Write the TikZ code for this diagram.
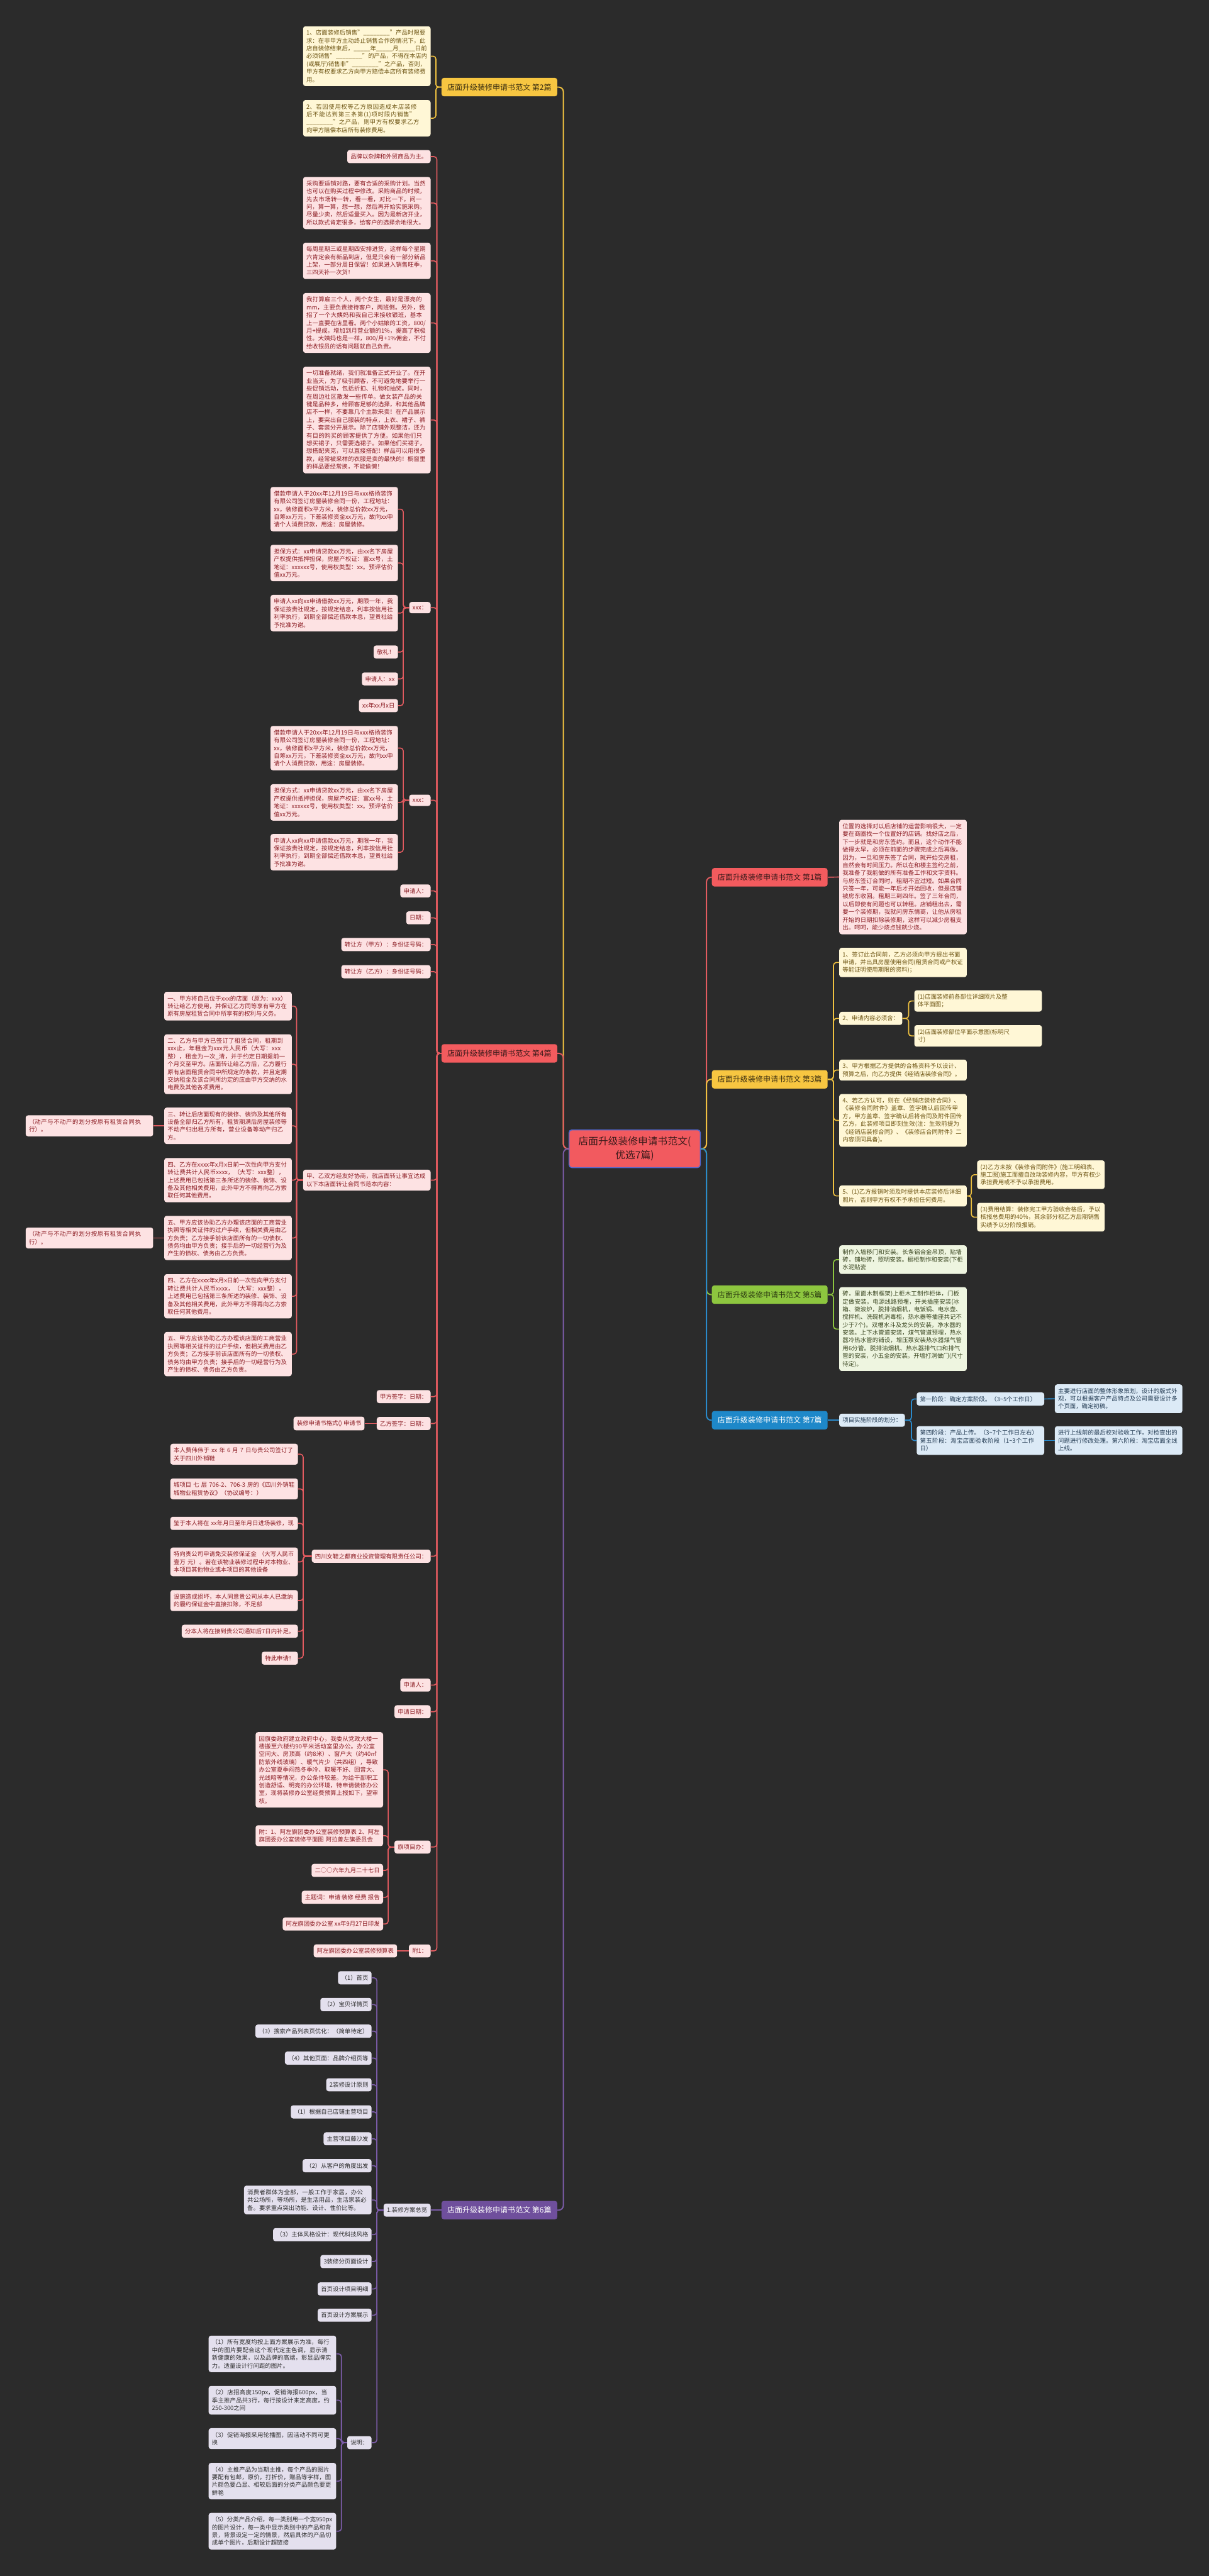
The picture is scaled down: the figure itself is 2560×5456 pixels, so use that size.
\documentclass[tikz,border=0pt]{standalone}
\usepackage{fontspec}
\setmainfont{Noto Sans CJK SC}
\XeTeXlinebreaklocale "zh"
\XeTeXlinebreakskip=0pt plus 1pt
\definecolor{bgc}{HTML}{2B2B2B}
\definecolor{ylab}{HTML}{F7C641}\definecolor{ybox}{HTML}{FFF7D6}\definecolor{ytext}{HTML}{6E5514}\definecolor{yline}{HTML}{EFC140}\definecolor{ylt}{HTML}{3A2E10}
\definecolor{rlab}{HTML}{F35B5E}\definecolor{rbox}{HTML}{FDE2E3}\definecolor{rtext}{HTML}{8C1D24}\definecolor{rline}{HTML}{E25B60}\definecolor{rlt}{HTML}{3A1A1A}
\definecolor{plab}{HTML}{6F4F9C}\definecolor{pbox}{HTML}{E4E0EE}\definecolor{ptext}{HTML}{2E2E2E}\definecolor{pline}{HTML}{7B5CA8}
\definecolor{glab}{HTML}{8DC63F}\definecolor{gbox}{HTML}{EEF5E0}\definecolor{gtext}{HTML}{39451F}\definecolor{gline}{HTML}{8DC63F}\definecolor{glt}{HTML}{2B3A10}
\definecolor{blab}{HTML}{1E88C9}\definecolor{bbox}{HTML}{DCEAF6}\definecolor{btext}{HTML}{223A52}\definecolor{bline}{HTML}{2A8ACB}
\definecolor{cfill}{HTML}{F25A5F}\definecolor{cdraw}{HTML}{5267D0}
\newcommand\jkA{借款申请人于20xx年12月19日与xxx格扬装饰有限公司签订房屋装修合同一份，工程地址：xx，装修面积x平方米，装修总价款xx万元，自筹xx万元，下差装修资金xx万元，故向xx申请个人消费贷款，用途：房屋装修。}
\newcommand\jkB{担保方式：xx申请贷款xx万元，由xx名下房屋产权提供抵押担保，房屋产权证：富xx号，土地证：xxxxxx号，使用权类型：xx。预评估价值xx万元。}
\newcommand\jkC{申请人xx向xx申请借款xx万元，期限一年，我保证按贵社规定，按规定结息，利率按信用社利率执行，到期全部偿还借款本息，望贵社给予批准为谢。}
\newcommand\zrFour{四、乙方在xxxx年x月x日前一次性向甲方支付转让费共计人民币xxxx，（大写：xxx整），上述费用已包括第三条所述的装修、装饰、设备及其他相关费用，此外甲方不得再向乙方索取任何其他费用。}
\newcommand\zrFive{五、甲方应该协助乙方办理该店面的工商营业执照等相关证件的过户手续，但相关费用由乙方负责；乙方接手前该店面所有的一切债权、债务均由甲方负责；接手后的一切经营行为及产生的债权、债务由乙方负责。}
\newcommand\dcText{（动产与不动产的划分按原有租赁合同执行）。}
\begin{document}
\begin{tikzpicture}[x=1pt,y=-1pt,
 bx/.style={rounded corners=5pt, inner xsep=7pt, inner ysep=8pt, font=\fontsize{12.5pt}{16.5pt}\selectfont, align=left},
 tw/.style={text width=256pt},
 ybx/.style={bx, fill=ybox, text=ytext},
 rbx/.style={bx, fill=rbox, text=rtext},
 pbx/.style={bx, fill=pbox, text=ptext},
 gbx/.style={bx, fill=gbox, text=gtext},
 bbx/.style={bx, fill=bbox, text=btext},
 lab/.style={rounded corners=5pt, minimum width=245pt, minimum height=39pt, inner xsep=4pt, font=\fontsize{16pt}{19pt}\selectfont},
 ctr/.style={rounded corners=6pt, fill=cfill, draw=cdraw, line width=2pt, minimum width=278pt, minimum height=80pt, align=center, text=rlt, font=\fontsize{21pt}{29pt}\selectfont},
 lk/.style={line width=2.6pt, rounded corners=10pt},
 lk2/.style={line width=2.2pt, rounded corners=6pt}]
\fill[bgc] (0,0) rectangle (2560,5456);
\useasboundingbox (0,0) rectangle (2560,5456);

% centre and branch labels
\node[ctr] (C) at (1344,2433) {店面升级装修申请书范文(\\优选7篇)};
\node[lab, fill=ylab, text=ylt] (L2) at (1057.5,184.5) {店面升级装修申请书范文 第2篇};
\node[lab, fill=rlab, text=rlt] (L4) at (1057.5,2231) {店面升级装修申请书范文 第4篇};
\node[lab, fill=plab, text=white] (L6) at (1057.5,4681) {店面升级装修申请书范文 第6篇};
\node[lab, fill=rlab, text=rlt] (L1) at (1630,1858) {店面升级装修申请书范文 第1篇};
\node[lab, fill=ylab, text=ylt] (L3) at (1630,2286) {店面升级装修申请书范文 第3篇};
\node[lab, fill=glab, text=glt] (L5) at (1630,2742) {店面升级装修申请书范文 第5篇};
\node[lab, fill=blab, text=white] (L7) at (1630,3008) {店面升级装修申请书范文 第7篇};

\coordinate (tL) at (1193,0); \coordinate (tR) at (1496,0);
\coordinate (b2) at (923,0); \coordinate (b4) at (925,0); \coordinate (bx) at (854,0);
\coordinate (b10) at (628,0); \coordinate (b13) at (642,0); \coordinate (b16) at (822,0);
\coordinate (bG) at (798,0); \coordinate (bH) at (723,0);
\coordinate (b3) at (1765,0); \coordinate (bS2) at (1924,0); \coordinate (bS5) at (2057,0);
\coordinate (b5) at (1765,0); \coordinate (bU) at (1930,0);

% 第2篇
\node[ybx,tw,anchor=east] (Y1) at (912,119) {1、店面装修后销售"\_\_\_\_\_\_\_\_"产品时限要求：在非甲方主动终止销售合作的情况下，此店自装修结束后，\_\_\_\_\_年\_\_\_\_\_月\_\_\_\_\_日前必须销售"\_\_\_\_\_\_\_\_"的产品，不得在本店内(或展厅)销售非"\_\_\_\_\_\_\_\_"之产品，否则，甲方有权要求乙方向甲方赔偿本店所有装修费用。};
\node[ybx,tw,anchor=east] (Y2) at (912,250.5) {2、若因使用权等乙方原因造成本店装修后不能达到第三条第(1)项时限内销售"\_\_\_\_\_\_\_\_"之产品，则甲方有权要求乙方向甲方赔偿本店所有装修费用。};

% 第4篇
\node[rbx,anchor=east] (P1) at (912,331.7) {品牌以杂牌和外贸商品为主。};
\node[rbx,tw,anchor=east] (P2) at (912,430) {采购要适销对路，要有合适的采购计划。当然也可以在购买过程中修改。采购商品的时候，先去市场转一转，看一看，对比一下，问一问，算一算，想一想，然后再开始实施采购。尽量少卖，然后适量买入。因为是新店开业，所以款式肯定很多，给客户的选择余地很大。};
\node[rbx,tw,anchor=east] (P3) at (912,552.5) {每周星期三或星期四安排进货，这样每个星期六肯定会有新品到店，但是只会有一部分新品上架，一部分周日保留！如果进入销售旺季，三四天补一次货！};
\node[rbx,tw,anchor=east] (P4) at (912,684) {我打算雇三个人，两个女生，最好是漂亮的mm，主要负责接待客户，两班倒。另外，我招了一个大姨妈和我自己来接收银班，基本上一直要在店里看。两个小姑娘的工资，800/月+提成，增加到月营业额的1\%，提高了积极性。大姨妈也是一样，800/月+1\%佣金，不付给收银员的话有问题就自己负责。};
\node[rbx,tw,anchor=east] (P5) at (912,889.6) {一切准备就绪，我们就准备正式开业了。在开业当天，为了吸引顾客，不可避免地要举行一些促销活动，包括折扣、礼物和抽奖。同时，在周边社区散发一些传单。做女装产品的关键是品种多，给顾客足够的选择，和其他品牌店不一样，不要靠几个主款来卖！在产品展示上，要突出自己服装的特点，上衣、裙子、裤子、套装分开展示。除了店铺外观整洁，还为有目的购买的顾客提供了方便。如果他们只想买裙子，只需要选裙子。如果他们买裙子，想搭配夹克，可以直接搭配！样品可以用很多款，经常被采样的衣服是卖的最快的！橱窗里的样品要经常换，不能偷懒！};
\node[rbx,anchor=east] (X1) at (912,1287) {xxx：};
\node[rbx,tw,anchor=east] (A1) at (843,1078.4) {\jkA};
\node[rbx,tw,anchor=east] (A2) at (843,1192.5) {\jkB};
\node[rbx,tw,anchor=east] (A3) at (843,1298.5) {\jkC};
\node[rbx,anchor=east] (A4) at (843,1381) {敬礼！};
\node[rbx,anchor=east] (A5) at (843,1438) {申请人：xx};
\node[rbx,anchor=east] (A6) at (843,1494.5) {xx年xx月x日};
\node[rbx,anchor=east] (X2) at (912,1695) {xxx：};
\node[rbx,tw,anchor=east] (B1) at (843,1584.5) {\jkA};
\node[rbx,tw,anchor=east] (B2) at (843,1699.5) {\jkB};
\node[rbx,tw,anchor=east] (B3) at (843,1805) {\jkC};
\node[rbx,anchor=east] (P6) at (912,1887) {申请人：};
\node[rbx,anchor=east] (P7) at (912,1944) {日期：};
\node[rbx,anchor=east] (P8) at (912,2000.5) {转让方（甲方）：身份证号码：};
\node[rbx,anchor=east] (P9) at (912,2058) {转让方（乙方）：身份证号码：};
\node[rbx,tw,anchor=east] (P10) at (912,2499.5) {甲、乙双方经友好协商，就店面转让事宜达成以下本店面转让合同书范本内容：};
\node[rbx,tw,anchor=east] (C1) at (618,2131) {一、甲方将自己位于xxx的店面（原为：xxx）转让给乙方使用，并保证乙方同等享有甲方在原有房屋租赁合同中所享有的权利与义务。};
\node[rbx,tw,anchor=east] (C2) at (618,2254) {二、乙方与甲方已签订了租赁合同，租期到xxx止，年租金为xxx元人民币（大写：xxx整），租金为一次\_清，并于约定日期提前一个月交至甲方。店面转让给乙方后，乙方履行原有店面租赁合同中所规定的条款，并且定期交纳租金及该合同所约定的应由甲方交纳的水电费及其他各项费用。};
\node[rbx,tw,anchor=east] (C3) at (618,2384.5) {三、转让后店面现有的装修、装饰及其他所有设备全部归乙方所有，租赁期满后房屋装修等不动产归出租方所有，营业设备等动产归乙方。};
\node[rbx,tw,anchor=east] (C4) at (618,2499.5) {\zrFour};
\node[rbx,tw,anchor=east] (C5) at (618,2622) {\zrFive};
\node[rbx,tw,anchor=east] (C6) at (618,2745.5) {\zrFour};
\node[rbx,tw,anchor=east] (C7) at (618,2868) {\zrFive};
\node[rbx,tw,anchor=east] (F1) at (324.5,2384.5) {\dcText};
\node[rbx,tw,anchor=east] (F2) at (324.5,2622) {\dcText};
\node[rbx,anchor=east] (P11) at (912,2958) {甲方签字：日期：};
\node[rbx,anchor=east] (P12) at (912,3015) {乙方签字：日期：};
\node[rbx,anchor=east] (K1) at (772,3015) {装修申请书格式()\ 申请书};
\node[rbx,anchor=east] (P13) at (912,3296) {四川女鞋之都商业投资管理有限责任公司：};
\node[rbx,tw,anchor=east] (D1) at (631,3080) {本人费伟伟于 xx 年 6 月 7 日与贵公司签订了关于四川外销鞋};
\node[rbx,tw,anchor=east] (D2) at (631,3153.5) {城项目 七 层 706-2、706-3 房的《四川外销鞋城物业租赁协议》（协议编号：）};
\node[rbx,tw,anchor=east] (D3) at (631,3226.5) {鉴于本人将在 xx年月日至年月日进场装修，现};
\node[rbx,tw,anchor=east] (D4) at (631,3308) {特向贵公司申请免交装修保证金 （大写人民币壹万 元）。若在该物业装修过程中对本物业、本项目其他物业或本项目的其他设备};
\node[rbx,tw,anchor=east] (D5) at (631,3390) {设施造成损坏，本人同意贵公司从本人已缴纳的履约保证金中直接扣除，不足部};
\node[rbx,anchor=east] (D6) at (631,3455) {分本人将在接到贵公司通知后7日内补足。};
\node[rbx,anchor=east] (D7) at (631,3512) {特此申请！};
\node[rbx,anchor=east] (P14) at (912,3569) {申请人：};
\node[rbx,anchor=east] (P15) at (912,3625.5) {申请日期：};
\node[rbx,anchor=east] (P16) at (912,3912) {旗项目办：};
\node[rbx,tw,anchor=east] (E1) at (811.4,3748.5) {因旗委政府建立政府中心，我委从党政大楼一楼搬至六楼约90平米活动室里办公。办公室空间大、房顶高（约8米）、窗户大（约40㎡防紫外线玻璃）、暖气片少（共四组），导致办公室夏季闷热冬季冷、取暖不好、回音大、光线暗等情况，办公条件较差。为给干部职工创造舒适、明亮的办公环境，特申请装修办公室，现将装修办公室经费预算上报如下，望审核。};
\node[rbx,tw,anchor=east] (E2) at (811.4,3888) {附：1、阿左旗团委办公室装修预算表 2、阿左旗团委办公室装修平面图 阿拉善左旗委员会};
\node[rbx,anchor=east] (E3) at (811.4,3961.5) {二○○六年九月二十七日};
\node[rbx,anchor=east] (E4) at (811.4,4018.5) {主题词：申请 装修 经费 报告};
\node[rbx,anchor=east] (E5) at (811.4,4075) {阿左旗团委办公室 xx年9月27日印发};
\node[rbx,anchor=east] (P17) at (912,4132) {附1：};
\node[rbx,anchor=east] (Q1) at (841,4132) {阿左旗团委办公室装修预算表};

% 第6篇
\node[pbx,anchor=east] (G0) at (912,4681) {1.装修方案总览};
\node[pbx,anchor=east] (G1) at (787,4189) {（1）首页};
\node[pbx,anchor=east] (G2) at (787,4245.6) {（2）宝贝详情页};
\node[pbx,anchor=east] (G3) at (787,4302) {（3）搜索产品列表页优化：（简单待定）};
\node[pbx,anchor=east] (G4) at (787,4359) {（4）其他页面：品牌介绍页等};
\node[pbx,anchor=east] (G5) at (787,4415.5) {2装修设计原则};
\node[pbx,anchor=east] (G6) at (787,4473) {（1）根据自己店铺主营项目};
\node[pbx,anchor=east] (G7) at (787,4530) {主营项目藤沙发};
\node[pbx,anchor=east] (G8) at (787,4587) {（2）从客户的角度出发};
\node[pbx,tw,anchor=east] (G9) at (787,4659.5) {消费者群体为全部，一般工作于家居，办公共公场所，等场所，是生活用品，生活家装必备。要求重点突出功能、设计、性价比等。};
\node[pbx,anchor=east] (G10) at (787,4733) {（3）主体风格设计：现代科技风格};
\node[pbx,anchor=east] (G11) at (787,4790) {3装修分页面设计};
\node[pbx,anchor=east] (G12) at (787,4848) {首页设计项目明细};
\node[pbx,anchor=east] (G13) at (787,4903.6) {首页设计方案展示};
\node[pbx,anchor=east] (G14) at (787,5173.5) {说明：};
\node[pbx,tw,anchor=east] (H1) at (712,4985.5) {（1）所有宽度均按上面方案展示为准，每行中的图片要配合这个现代定主色调，显示清新健康的效果，以及品牌的高端，彰显品牌实力。适量设计行间距的图片。};
\node[pbx,tw,anchor=east] (H2) at (712,5083.7) {（2）店招高度150px，促销海报600px，当季主推产品共3行，每行按设计来定高度，约250-300之间};
\node[pbx,tw,anchor=east] (H3) at (712,5165) {（3）促销海报采用轮播图，因活动不同可更换};
\node[pbx,tw,anchor=east] (H4) at (712,5255) {（4）主推产品为当期主推，每个产品的图片要配有包邮，原价，打折价，赠品等字样，图片颜色要凸显、相较后面的分类产品颜色要更鲜艳};
\node[pbx,tw,anchor=east] (H5) at (712,5361) {（5）分类产品介绍，每一类别用一个宽950px的图片设计，每一类中显示类别中的产品和背景，背景设定一定的情景，然后具体的产品切成单个图片，后期设计超链接};

% 第1篇
\node[rbx,tw,anchor=west] (R1) at (1777,1857.5) {位置的选择对以后店铺的运营影响很大，一定要在商圈找一个位置好的店铺。找好店之后，下一步就是和房东签约。而且，这个动作不能做得太早，必须在前面的步骤完成之后再做。因为，一旦和房东签了合同，就开始交房租，自然会有时间压力。所以在和楼主签约之前，我准备了我能做的所有准备工作和文字资料。与房东签订合同时，租期不宜过短。如果合同只签一年，可能一年后才开始回收，但是店铺被房东收回。租期三到四年。签了三年合同，以后即使有问题也可以转租。店铺租出去，需要一个装修期，我就问房东情商，让他从房租开始的日期扣除装修期，这样可以减少房租支出。呵呵，能少烧点钱就少烧。};

% 第3篇
\node[ybx,tw,anchor=west] (S1) at (1777,2038.5) {1、签订此合同前，乙方必须向甲方提出书面申请，并出具房屋使用合同(租赁合同或产权证等能证明使用期限的资料)；};
\node[ybx,anchor=west] (S2) at (1777,2157) {2、申请内容必须含：};
\node[ybx,tw,anchor=west] (S21) at (1936,2120) {(1)店面装修前各部位详细照片及整\\体平面图；};
\node[ybx,tw,anchor=west] (S22) at (1936,2194) {(2)店面装修部位平面示意图(标明尺\\寸)};
\node[ybx,tw,anchor=west] (S3) at (1777,2266.5) {3、甲方根据乙方提供的合格资料予以设计、预算之后，向乙方提供《经销店装修合同》。};
\node[ybx,tw,anchor=west] (S4) at (1777,2373) {4、若乙方认可，则在《经销店装修合同》、《装修合同附件》盖章、签字确认后回传甲方，甲方盖章、签字确认后将合同及附件回传乙方，此装修项目即刻生效(注：生效前提为《经销店装修合同》、《装修店合同附件》二内容须同具备)。};
\node[ybx,tw,anchor=west] (S5) at (1777,2533) {5、(1)乙方报销时须及时提供本店装修后详细照片，否则甲方有权不予承担任何费用。};
\node[ybx,tw,anchor=west] (S51) at (2069,2488) {(2)乙方未按《装修合同附件》(施工明细表、施工图)施工而擅自改动装修内容，甲方有权少承担费用或不予以承担费用。};
\node[ybx,tw,anchor=west] (S52) at (2069,2578) {(3)费用结算：装修完工甲方验收合格后，予以核报总费用的40\%，其余部分视乙方后期销售实绩予以分阶段报销。};

% 第5篇
\node[gbx,tw,anchor=west] (T1) at (1777,2668) {制作入墙移门和安装。长条铝合金吊顶，贴墙砖，铺地砖，照明安装。橱柜制作和安装(下柜水泥贴瓷};
\node[gbx,tw,anchor=west] (T2) at (1777,2815) {砖，里面木制框架)上柜木工制作柜体，门板定做安装。电源线路预埋，开关插座安装(冰箱、微波炉，脱排油烟机，电饭锅、电水壶、搅拌机、洗碗机消毒柜，热水器等插座共记不少于7个)。双槽水斗及龙头的安装，净水器的安装。上下水管道安装，煤气管道预埋，热水器冷热水管的铺设，增压泵安装热水器煤气管用6分管。脱排油烟机、热水器排气口和排气管的安装，小五金的安装。开墙打洞做门(尺寸待定)。};

% 第7篇
\node[bbx,anchor=west] (U1) at (1777,3008) {项目实施阶段的划分：};
\node[bbx,tw,anchor=west] (U11) at (1941,2963) {第一阶段：确定方案阶段。（3\textasciitilde5个工作日）};
\node[bbx,tw,anchor=west] (U12) at (1941,3051) {第四阶段：产品上传。（3\textasciitilde7个工作日左右）第五阶段：淘宝店面验收阶段（1\textasciitilde3个工作日）};
\node[bbx,tw,anchor=west] (U111) at (2233.5,2962.5) {主要进行店面的整体形象策划，设计的版式外观，可以根据客户产品特点及公司需要设计多个页面，确定初稿。};
\node[bbx,tw,anchor=west] (U121) at (2233.5,3051) {进行上线前的最后校对验收工作，对检查出的问题进行修改处理。第六阶段：淘宝店面全线上线。};

% trunk connectors
\draw[lk, yline] (C.west) -- (C.west -| tL) |- (L2.east);
\draw[lk, rline] (C.west) -- (C.west -| tL) |- (L4.east);
\draw[lk, pline] (C.west) -- (C.west -| tL) |- (L6.east);
\draw[lk, rline] (C.east) -- (C.east -| tR) |- (L1.west);
\draw[lk, yline] (C.east) -- (C.east -| tR) |- (L3.west);
\draw[lk, gline] (C.east) -- (C.east -| tR) |- (L5.west);
\draw[lk, bline] (C.east) -- (C.east -| tR) |- (L7.west);

% branch connectors
\foreach \cn in {Y1,Y2} \draw[lk2, yline] (L2.west) -- (L2.west -| b2) |- (\cn.east);
\foreach \cn in {P1,P2,P3,P4,P5,X1,X2,P6,P7,P8,P9,P10,P11,P12,P13,P14,P15,P16,P17} \draw[lk2, rline] (L4.west) -- (L4.west -| b4) |- (\cn.east);
\foreach \cn in {A1,A2,A3,A4,A5,A6} \draw[lk2, rline] (X1.west) -- (X1.west -| bx) |- (\cn.east);
\foreach \cn in {B1,B2,B3} \draw[lk2, rline] (X2.west) -- (X2.west -| bx) |- (\cn.east);
\foreach \cn in {C1,C2,C3,C4,C5,C6,C7} \draw[lk2, rline] (P10.west) -- (P10.west -| b10) |- (\cn.east);
\draw[lk2, rline] (C3.west) -- (F1.east);
\draw[lk2, rline] (C5.west) -- (F2.east);
\draw[lk2, rline] (P12.west) -- (K1.east);
\foreach \cn in {D1,D2,D3,D4,D5,D6,D7} \draw[lk2, rline] (P13.west) -- (P13.west -| b13) |- (\cn.east);
\foreach \cn in {E1,E2,E3,E4,E5} \draw[lk2, rline] (P16.west) -- (P16.west -| b16) |- (\cn.east);
\draw[lk2, rline] (P17.west) -- (Q1.east);
\draw[lk2, pline] (L6.west) -- (G0.east);
\foreach \cn in {G1,G2,G3,G4,G5,G6,G7,G8,G9,G10,G11,G12,G13,G14} \draw[lk2, pline] (G0.west) -- (G0.west -| bG) |- (\cn.east);
\foreach \cn in {H1,H2,H3,H4,H5} \draw[lk2, pline] (G14.west) -- (G14.west -| bH) |- (\cn.east);
\draw[lk2, rline] (L1.east) -- (R1.west);
\foreach \cn in {S1,S2,S3,S4,S5} \draw[lk2, yline] (L3.east) -- (L3.east -| b3) |- (\cn.west);
\foreach \cn in {S21,S22} \draw[lk2, yline] (S2.east) -- (S2.east -| bS2) |- (\cn.west);
\foreach \cn in {S51,S52} \draw[lk2, yline] (S5.east) -- (S5.east -| bS5) |- (\cn.west);
\foreach \cn in {T1,T2} \draw[lk2, gline] (L5.east) -- (L5.east -| b5) |- (\cn.west);
\draw[lk2, bline] (L7.east) -- (U1.west);
\foreach \cn in {U11,U12} \draw[lk2, bline] (U1.east) -- (U1.east -| bU) |- (\cn.west);
\draw[lk2, bline] (U11.east) -- (U111.west);
\draw[lk2, bline] (U12.east) -- (U121.west);
\end{tikzpicture}
\end{document}
